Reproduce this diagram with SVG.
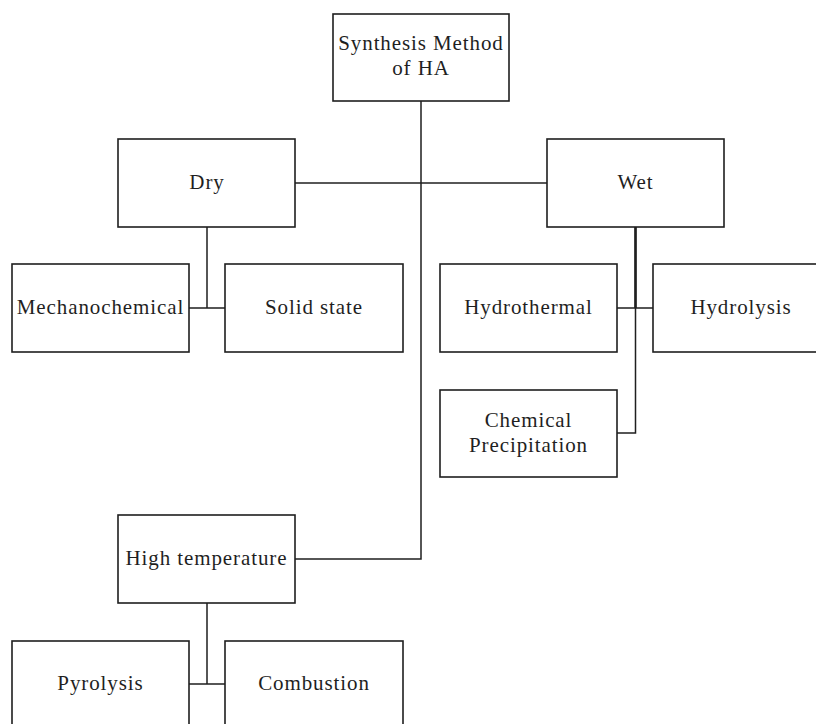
<svg xmlns="http://www.w3.org/2000/svg" width="816" height="724" viewBox="0 0 816 724">
<style>
.box{fill:#fff;stroke:#1f1f1f;stroke-width:1.6}
.lbl{font-family:"Liberation Serif","Times New Roman",serif;font-size:21px;letter-spacing:0.9px;fill:#1f1f1f;text-anchor:middle}
.c{fill:none;stroke:#1f1f1f;stroke-width:1.5}
</style>
<rect width="816" height="724" fill="#fff"/>
<g id="connectors">
<path class="c" d="M421,101 V559 H295"/>
<path class="c" d="M295,183 H547"/>
<path class="c" d="M207,227 V308 M189,308 H225"/>
<path class="c" d="M635.5,227 V433 H617 M617,308 H653"/>
<path class="c" style="stroke-width:2.6" d="M635.5,227 V308"/>
<path class="c" d="M207,603 V684 M189,684 H225"/>
</g>
<g id="n-root"><rect class="box" x="333" y="14" width="176" height="87"/><text class="lbl" x="421" y="50">Synthesis Method</text><text class="lbl" x="421" y="75">of HA</text></g>
<g id="n-dry"><rect class="box" x="118" y="139" width="177" height="88"/><text class="lbl" x="207" y="189">Dry</text></g>
<g id="n-wet"><rect class="box" x="547" y="139" width="177" height="88"/><text class="lbl" x="635.5" y="189">Wet</text></g>
<g id="n-mech"><rect class="box" x="12" y="264" width="177" height="88"/><text class="lbl" x="100.5" y="314">Mechanochemical</text></g>
<g id="n-solid"><rect class="box" x="225" y="264" width="178" height="88"/><text class="lbl" x="314" y="314">Solid state</text></g>
<g id="n-hydrothermal"><rect class="box" x="440" y="264" width="177" height="88"/><text class="lbl" x="528.5" y="314">Hydrothermal</text></g>
<g id="n-hydrolysis"><rect class="box" x="653" y="264" width="177" height="88"/><text class="lbl" x="741" y="314">Hydrolysis</text></g>
<g id="n-chem"><rect class="box" x="440" y="390" width="177" height="87"/><text class="lbl" x="528.5" y="427">Chemical</text><text class="lbl" x="528.5" y="452">Precipitation</text></g>
<g id="n-high"><rect class="box" x="118" y="515" width="177" height="88"/><text class="lbl" x="206.5" y="565">High temperature</text></g>
<g id="n-pyro"><rect class="box" x="12" y="641" width="177" height="100"/><text class="lbl" x="100.5" y="690">Pyrolysis</text></g>
<g id="n-comb"><rect class="box" x="225" y="641" width="178" height="100"/><text class="lbl" x="314" y="690">Combustion</text></g>
</svg>
